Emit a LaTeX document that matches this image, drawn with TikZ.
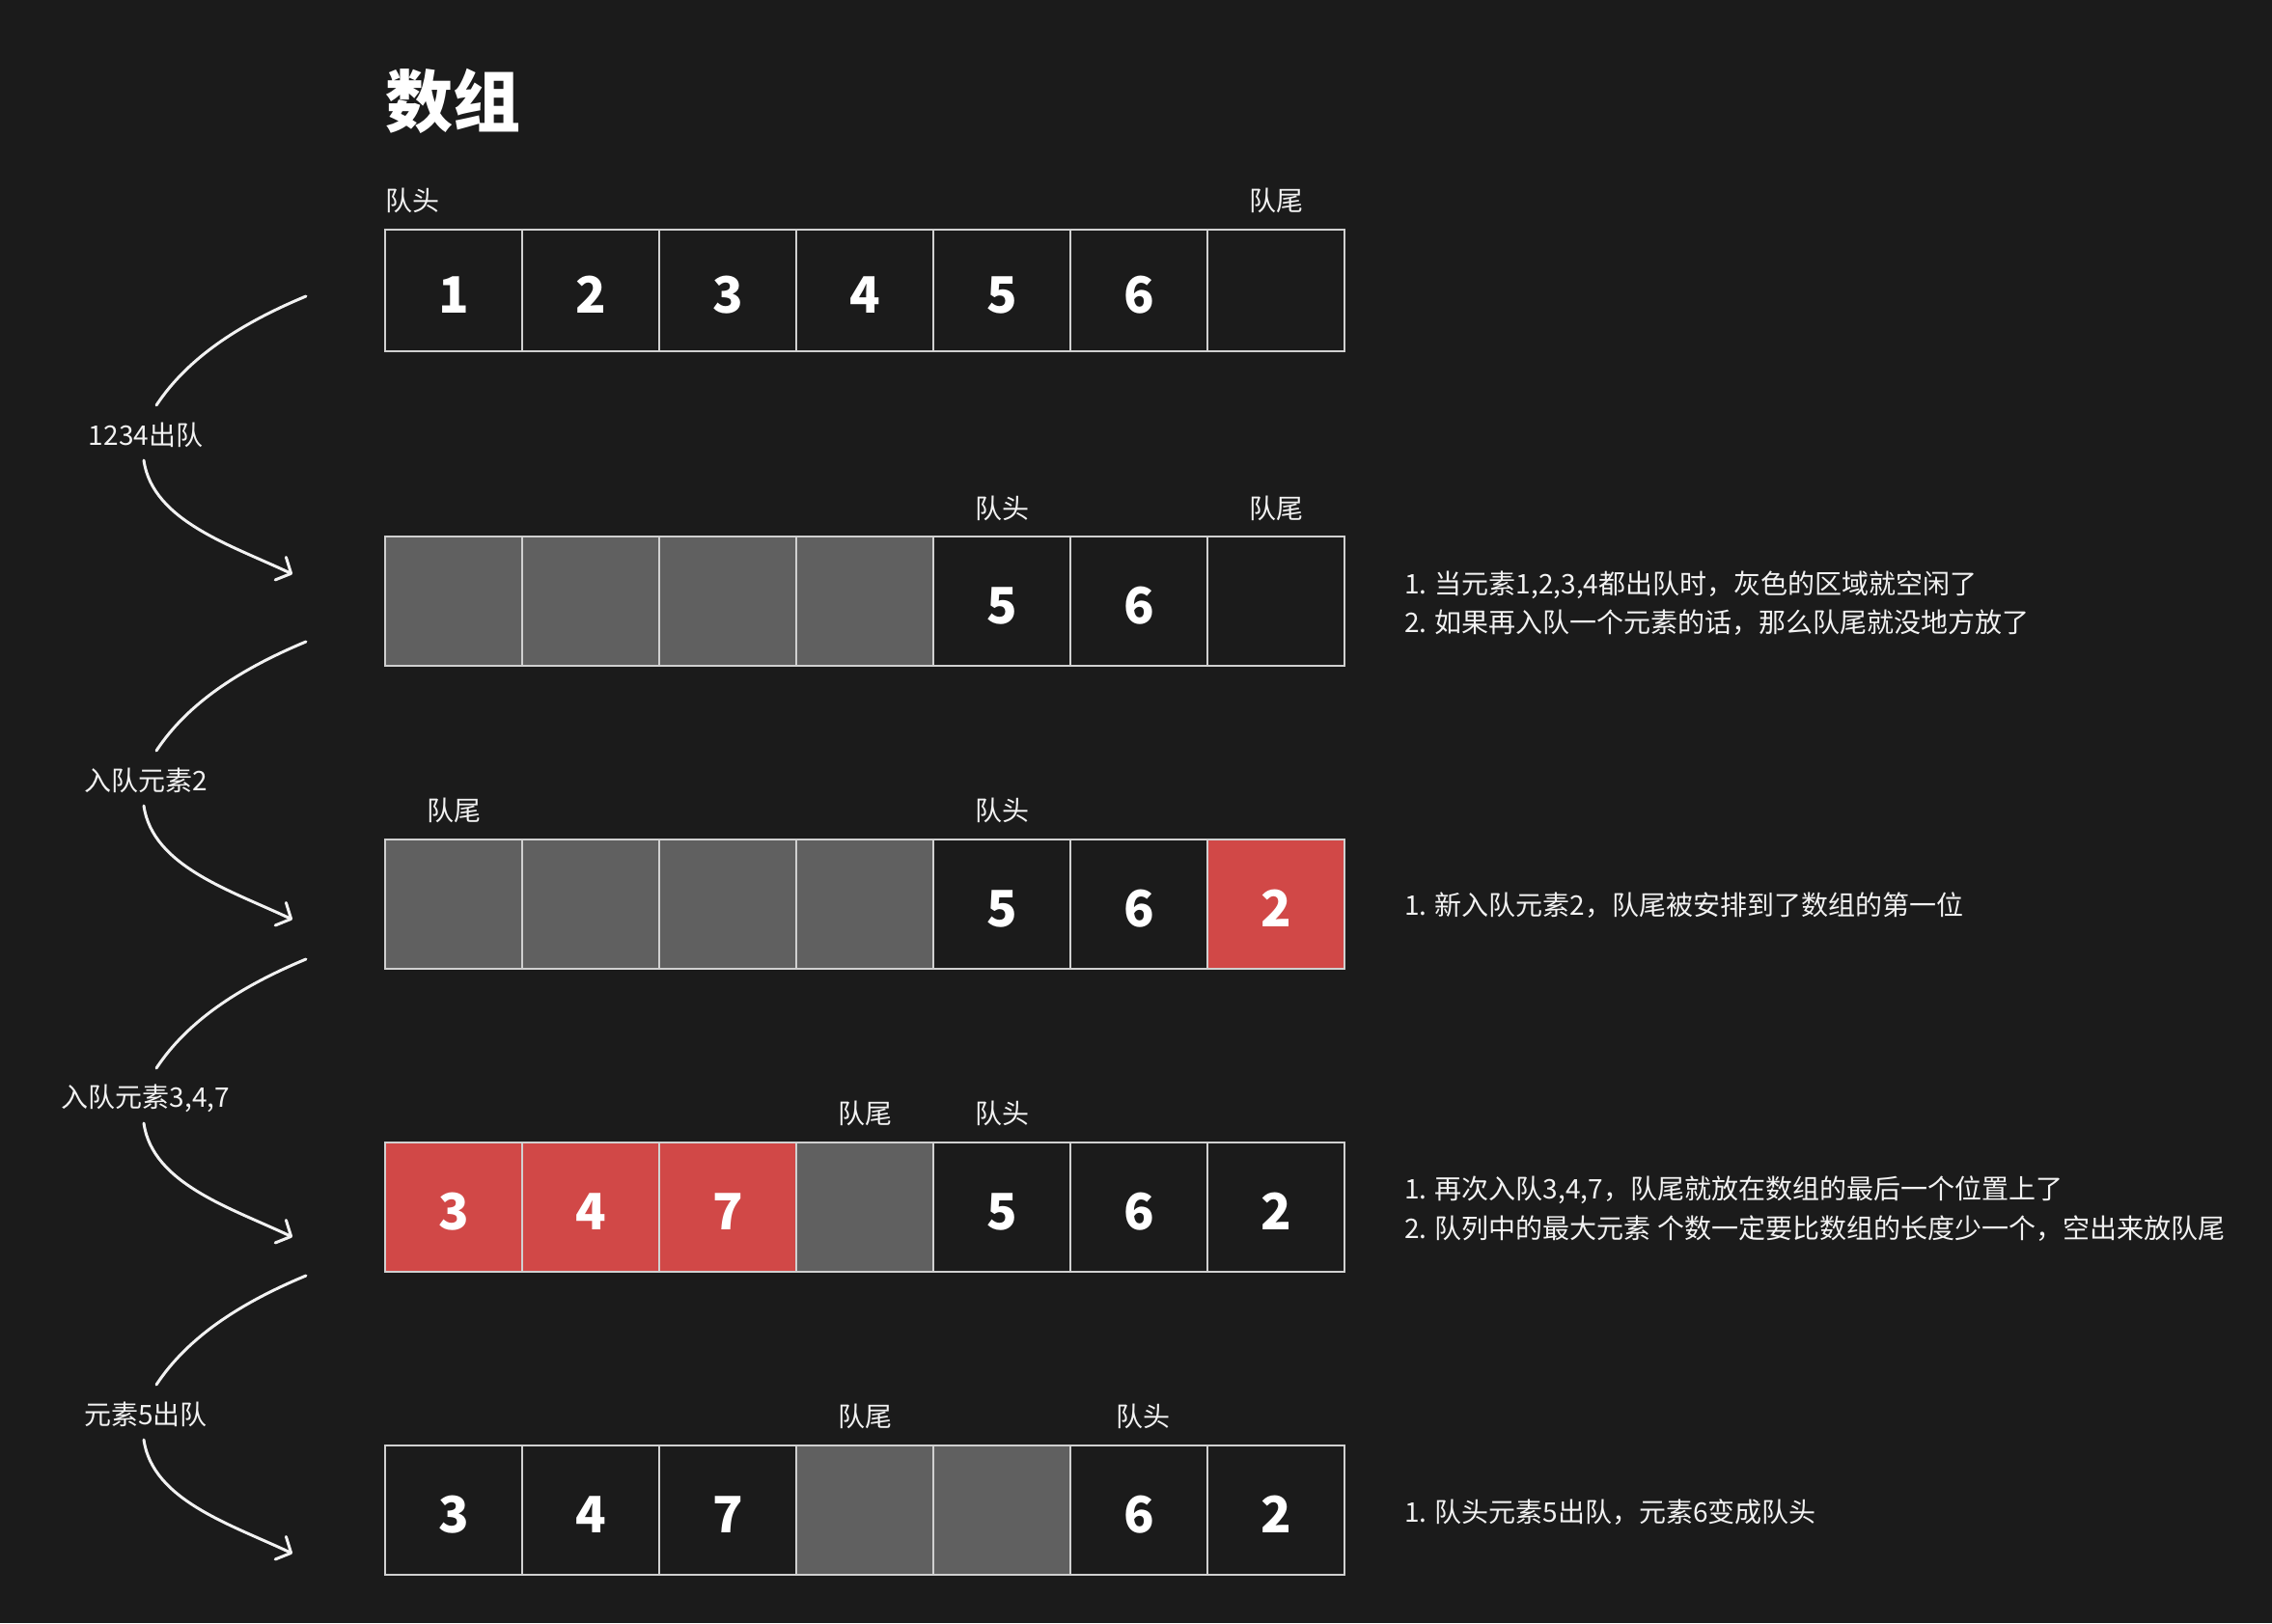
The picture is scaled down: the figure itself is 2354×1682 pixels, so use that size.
\documentclass[tikz,border=0pt]{standalone}
\usepackage{fontspec}
\setmainfont{Noto Sans CJK SC}
\usetikzlibrary{arrows.meta}
\definecolor{bg}{HTML}{1B1B1B}
\definecolor{gy}{HTML}{606060}
\definecolor{rd}{HTML}{D14847}
\definecolor{dk}{HTML}{1B1B1B}
\definecolor{bd}{HTML}{D0D0D0}
\definecolor{fg}{HTML}{F2F2F2}
\begin{document}
\begin{tikzpicture}[x=1pt,y=-1pt,
 cell/.style={draw=bd,line width=2pt,minimum width=142pt,inner sep=0pt,outer sep=0pt,text=white,text height=46pt,text depth=0pt,font=\fontsize{52pt}{60pt}\selectfont\bfseries},
 tag/.style={text=fg,inner sep=0pt,font=\fontsize{28pt}{34pt}\selectfont,anchor=base},
 note/.style={text=fg,inner sep=0pt,font=\fontsize{28pt}{34pt}\selectfont,anchor=base west},
 steplab/.style={text=fg,inner sep=0pt,font=\fontsize{28pt}{34pt}\selectfont},
 curve/.style={draw=fg,line width=3pt,line cap=round},
 tip/.style={-{Straight Barb[length=12pt,width=26pt,round]}}
]
\fill[bg] (0,0) rectangle (2354,1682);
\useasboundingbox (0,0) rectangle (2354,1682);

\node[text=white,inner sep=0pt,anchor=base west,font=\fontsize{70pt}{80pt}\selectfont\bfseries] (title) at (399,131) {数组};

% row 1
\foreach \f/\t [count=\i] in {dk/1,dk/2,dk/3,dk/4,dk/5,dk/6,dk/{}}
  \node[cell,fill=\f,minimum height=126pt] (a\i) at ({399+142*\i-71},301) {\t};
% row 2
\foreach \f/\t [count=\i] in {gy/{},gy/{},gy/{},gy/{},dk/5,dk/6,dk/{}}
  \node[cell,fill=\f,minimum height=134pt] (b\i) at ({399+142*\i-71},623) {\t};
% row 3
\foreach \f/\t [count=\i] in {gy/{},gy/{},gy/{},gy/{},dk/5,dk/6,rd/2}
  \node[cell,fill=\f,minimum height=134pt] (c\i) at ({399+142*\i-71},937) {\t};
% row 4
\foreach \f/\t [count=\i] in {rd/3,rd/4,rd/7,gy/{},dk/5,dk/6,dk/2}
  \node[cell,fill=\f,minimum height=134pt] (d\i) at ({399+142*\i-71},1251) {\t};
% row 5
\foreach \f/\t [count=\i] in {dk/3,dk/4,dk/7,gy/{},gy/{},dk/6,dk/2}
  \node[cell,fill=\f,minimum height=134pt] (e\i) at ({399+142*\i-71},1565) {\t};

% head / tail tags
\node[tag,anchor=base west] (h1) at (399,218) {队头};
\node[tag] (t1) at (1322,218) {队尾};
\node[tag] (h2) at (1038,537) {队头};
\node[tag] (t2) at (1322,537) {队尾};
\node[tag] (t3) at (470,850) {队尾};
\node[tag] (h3) at (1038,850) {队头};
\node[tag] (t4) at (896,1164) {队尾};
\node[tag] (h4) at (1038,1164) {队头};
\node[tag] (t5) at (896,1478) {队尾};
\node[tag] (h5) at (1184,1478) {队头};

% notes
\node[note] (n2a) at (1455,615) {1. 当元素1,2,3,4都出队时，灰色的区域就空闲了};
\node[note] (n2b) at (1455,655) {2. 如果再入队一个元素的话，那么队尾就没地方放了};
\node[note] (n3) at (1455,948) {1. 新入队元素2，队尾被安排到了数组的第一位};
\node[note] (n4a) at (1455,1242) {1. 再次入队3,4,7，队尾就放在数组的最后一个位置上了};
\node[note] (n4b) at (1455,1283) {2. 队列中的最大元素 个数一定要比数组的长度少一个，空出来放队尾};
\node[note] (n5) at (1455,1577) {1. 队头元素5出队，元素6变成队头};

% step arrows
\foreach \k/\L/\txt in {1/451/1234出队,2/809/入队元素2,3/1138/{入队元素3,4,7},4/1466/元素5出队}{
  \node[steplab] (s\k) at (151,\L) {\txt};
  \coordinate (p\k) at (317,\L-144);
  \coordinate (q\k) at (162,\L-31);
  \coordinate (r\k) at (149,\L+26);
  \coordinate (z\k) at (303,\L+144);
  \draw[curve] (p\k) .. controls +(-67,28) and +(33,-50) .. (q\k);
  \draw[curve,tip] (r\k) .. controls +(9,63) and +(-63,-30) .. (z\k);
}
\end{tikzpicture}
\end{document}
